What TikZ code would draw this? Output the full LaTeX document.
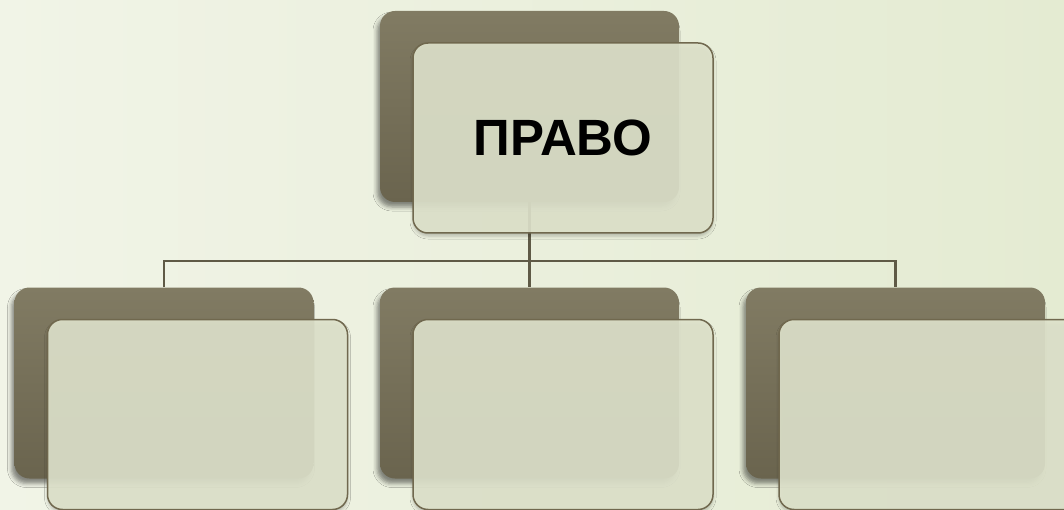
\documentclass[tikz,border=0pt]{standalone}
\usepackage{fontspec}
\usepackage{tikz}
\usetikzlibrary{shadows.blur}
\newfontfamily\headfont{Liberation Sans}
\definecolor{bgl}{RGB}{241, 244, 231}
\definecolor{bgr}{RGB}{228, 235, 210}
\definecolor{backtop}{RGB}{129, 123, 99}
\definecolor{backbot}{RGB}{106, 100, 78}
\definecolor{front}{RGB}{223, 227, 204}
\definecolor{edge}{RGB}{112, 104, 78}
\definecolor{link}{RGB}{95, 90, 70}

\begin{document}
\begin{tikzpicture}[
   x=1pt, y=-1pt,
   backbox/.style={rectangle, rounded corners=15pt, draw=none,
                   top color=backtop, bottom color=backbot,
                   minimum width=299, minimum height=191,
                   blur shadow={shadow xshift=-3pt, shadow yshift=-5pt,
                                shadow opacity=45, shadow blur radius=4pt}},
   frontbox/.style={rectangle, rounded corners=15pt, draw=edge, fill=front,
                    fill opacity=0.91, text opacity=1, line width=1.5,
                    text=black, minimum width=300, minimum height=190,
                    font=\headfont\bfseries\fontsize{51}{60}\selectfont,
                    blur shadow={shadow xshift=0pt, shadow yshift=-3pt,
                                 shadow opacity=25, shadow blur radius=3pt}},
   link/.style={draw=link, line width=2.5}
  ]

  % Offset of front box against back box
  \pgfmathsetmacro{\dx}{33.5}
  \pgfmathsetmacro{\dy}{31.5}

  \useasboundingbox (0, 0) rectangle (1064, 510);
  \shade[left color=bgl, right color=bgr] (0, 0) rectangle (1064, 510);

  \node (topback)   at (529.5, 106.5) [backbox] {};
  \node (leftback)  at (164, 383)     [backbox] {};
  \node (midback)   at (529.5, 383)   [backbox] {};
  \node (rightback) at (895.5, 383)   [backbox] {};

  \coordinate (bus) at (529.5, 261);
  \draw[link] (topback.south) -- (midback.north);
  \draw[link] (leftback.north) |- (bus) -| (rightback.north);

  \node (top) at ([xshift=\dx pt, yshift=-\dy pt]topback.center) [frontbox] {ПРАВО};
  \foreach \B in {leftback, midback, rightback} {
    \node (\B front) at ([xshift=\dx pt, yshift=-\dy pt]\B.center) [frontbox] {};
  }

\end{tikzpicture}
\end{document}
